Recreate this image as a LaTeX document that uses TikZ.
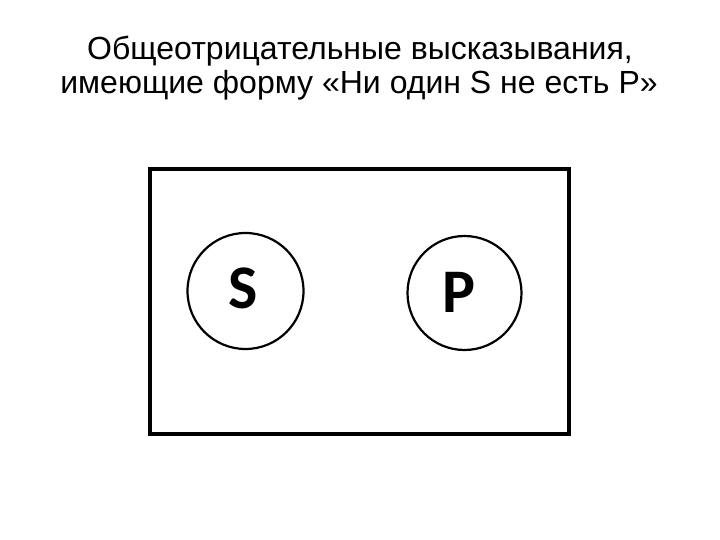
\documentclass[tikz,border=0pt]{standalone}
\usepackage{fontspec}
\setmainfont{Liberation Sans}
\newfontfamily\letterfont{Carlito}
\begin{document}
\begin{tikzpicture}[x=1pt,y=-1pt,
  frame/.style={draw=black,line width=3.5pt},
  setcircle/.style={draw=black,line width=2.2pt,circle},
  title/.style={anchor=base,font=\fontsize{32}{34}\selectfont,inner sep=0pt},
  letter/.style={font=\letterfont\bfseries\fontsize{62}{62}\selectfont,inner sep=0pt}]
\useasboundingbox (0,0) rectangle (720,540);
\fill[white] (0,0) rectangle (720,540);
\node[title] (t1) at (360,60) {Общеотрицательные высказывания,};
\node[title] (t2) at (359,94) {имеющие форму «Ни один S не есть P»};
\draw[frame] (150,169) rectangle (569,434);
\draw[setcircle] (245.5,291) circle[radius=58];
\draw[setcircle] (464.5,293) circle[radius=57];
\node[letter] (S) at (243,288) {S};
\node[letter] (P) at (459,292) {P};
\end{tikzpicture}
\end{document}
